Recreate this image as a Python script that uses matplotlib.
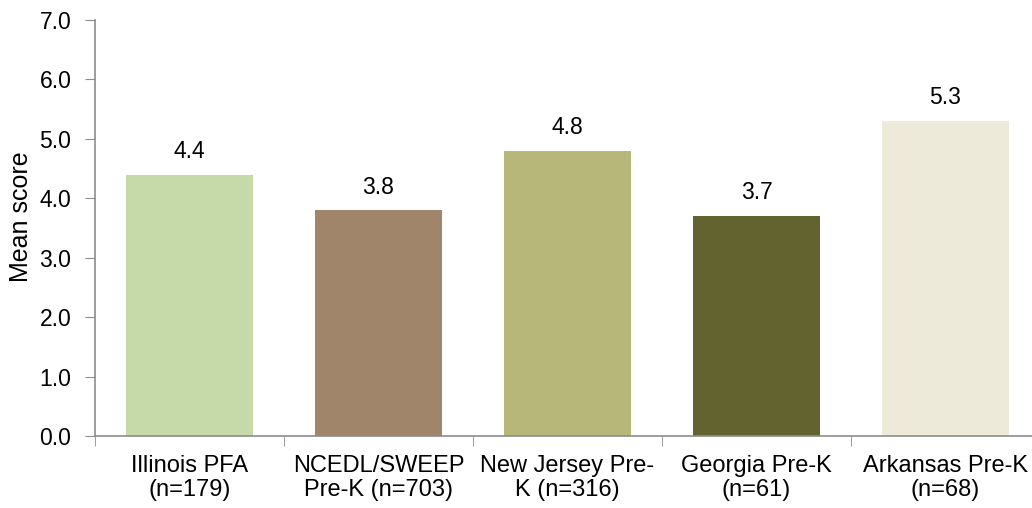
import matplotlib
matplotlib.use('Agg')
import matplotlib.pyplot as plt
import numpy as np

programs = ['Illinois PFA\n(n=179)', 'NCEDL/SWEEP\nPre-K (n=703)', 'New Jersey Pre-\nK (n=316)',
            'Georgia Pre-K\n(n=61)', 'Arkansas Pre-K\n(n=68)']
mean_scores = [4.4, 3.8, 4.8, 3.7, 5.3]
bar_colors = ['#C6D9A8', '#A0856A', '#B8B77A', '#636330', '#EEEADA']

plt.rcParams['font.family'] = ['Liberation Sans', 'DejaVu Sans']

fig = plt.figure(figsize=(10.32, 5.08), dpi=100)
# the plot runs a little past the right edge of the figure
ax = fig.add_axes([95 / 1032, 72 / 508, 945 / 1032, 416 / 508])

x = np.arange(len(programs))
bars = ax.bar(x, mean_scores, width=0.677, color=bar_colors, zorder=1)
for b, v in zip(bars, mean_scores):
    ax.annotate('%.1f' % v, (b.get_x() + b.get_width() / 2, v), xytext=(0, 12),
                textcoords='offset points', ha='center', va='baseline', fontsize=16.5)

ax.set_xlim(-0.5, len(programs) - 0.5)
ax.set_ylim(0, 7)
ax.set_yticks(np.arange(0, 7.1, 1.0))
ax.set_yticklabels(['%.1f' % t for t in np.arange(0, 7.1, 1.0)])
ax.set_xticks(x)
ax.set_xticklabels(programs, fontsize=17, linespacing=1.1)
ax.set_xticks(np.arange(-0.5, len(programs)), minor=True)
ax.tick_params(axis='x', which='major', length=0, pad=14)
ax.tick_params(axis='x', which='minor', length=7, color='#8C8C8C', direction='out')
ax.tick_params(axis='y', length=7, color='#8C8C8C', labelsize=16.5, pad=10)
ax.set_ylabel('Mean score', fontsize=18)
ax.yaxis.set_label_coords(-0.066, 0.526)

for s in ['top', 'right']:
    ax.spines[s].set_visible(False)
for s in ['left', 'bottom']:
    ax.spines[s].set_color('#8C8C8C')
    ax.spines[s].set_linewidth(1.2)
    ax.spines[s].set_zorder(3)

fig.savefig('out.png', dpi=100)
